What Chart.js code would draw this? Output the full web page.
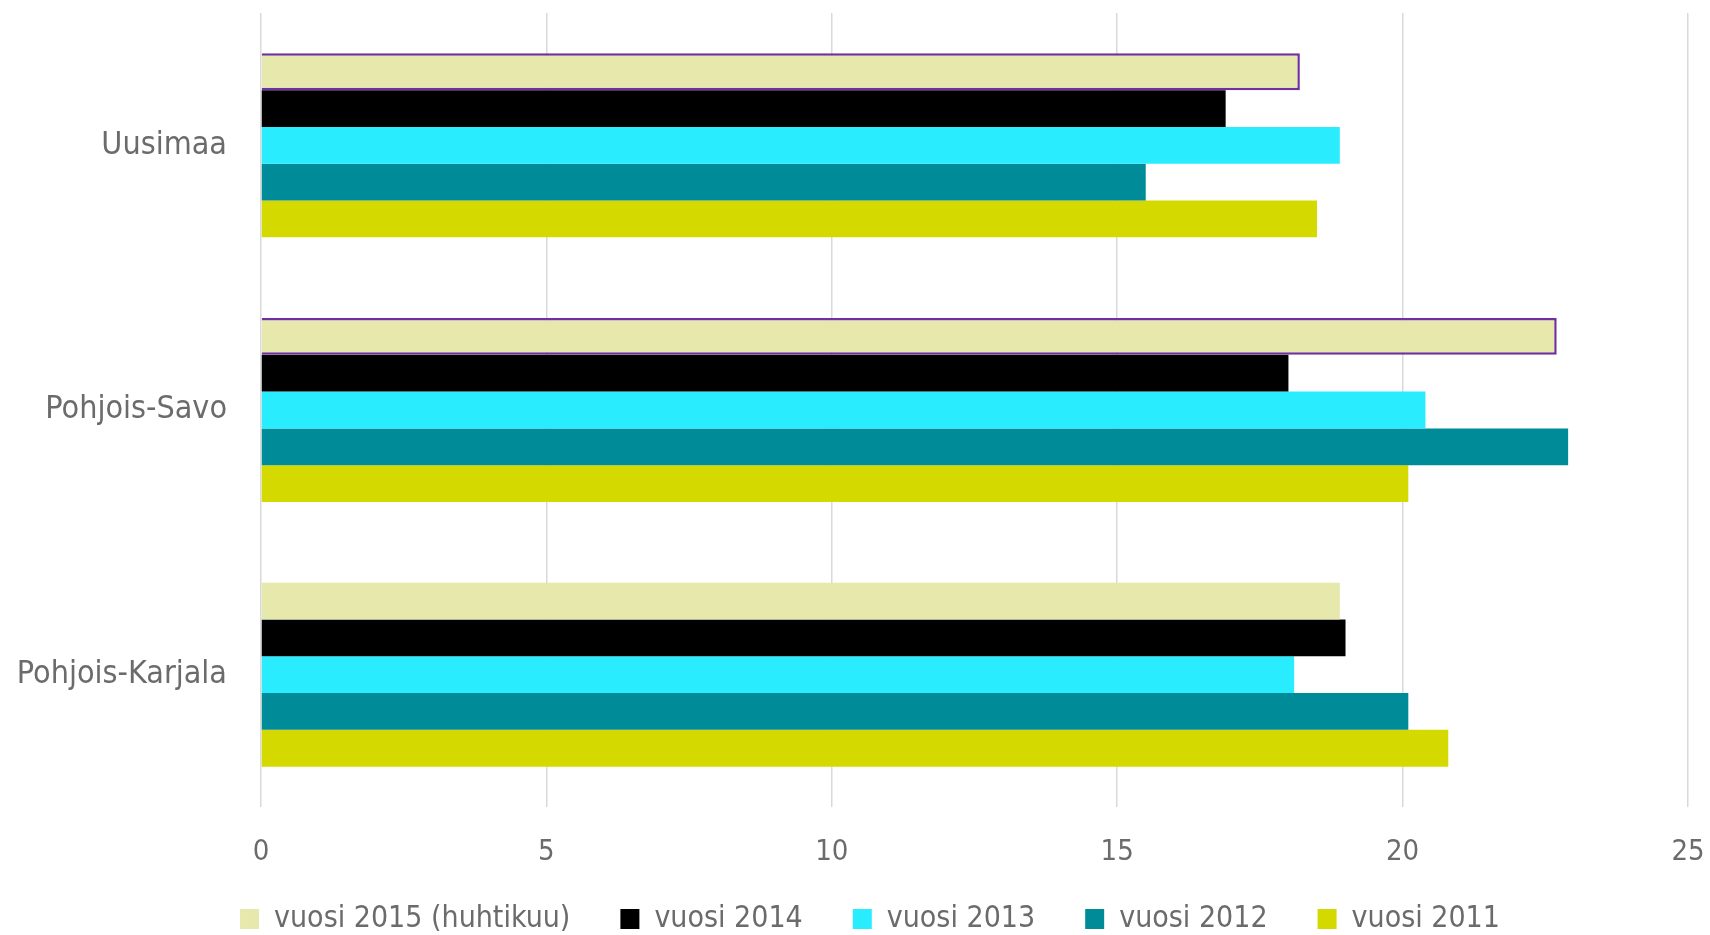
<!DOCTYPE html>
<html>
<head>
<meta charset="utf-8">
<script src="https://cdn.jsdelivr.net/npm/chart.js@4"></script>
<style>
html,body{margin:0;padding:0;background:#fff;}
#wrap{width:1710px;height:935px;position:relative;}
</style>
</head>
<body>
<div id="wrap"><canvas id="c" width="1710" height="935"></canvas></div>
<script>
const categories = ["Uusimaa", "Pohjois-Savo", "Pohjois-Karjala"];
const seriesNames = ["vuosi 2015 (huhtikuu)", "vuosi 2014", "vuosi 2013", "vuosi 2012", "vuosi 2011"];
const v2015 = [18.2, 22.7, 18.9];
const v2014 = [16.9, 18.0, 19.0];
const v2013 = [18.9, 20.4, 18.1];
const v2012 = [15.5, 22.9, 20.1];
const v2011 = [18.5, 20.1, 20.8];
const xTicks = [0, 5, 10, 15, 20, 25];

const colors = ["#E7E8AB", "#000000", "#29ECFF", "#008B99", "#D4D900"];
const values = [v2015, v2014, v2013, v2012, v2011];
const FONT = "'DejaVu Sans Condensed', 'DejaVu Sans', sans-serif";
const textColor = "#6b6b6b";

const LEG_PAD = 50;
const LEG_FONT = 30;
const LEG_TEXT_Y = 922;
const LEG_TOP = LEG_TEXT_Y - LEG_PAD - (LEG_FONT * 1.2) / 2;
const LEG_H = 935 - LEG_TOP;
const AREA_BOTTOM = 807;

const datasets = values.map((vals, i) => ({
  label: seriesNames[i],
  data: vals,
  backgroundColor: colors[i],
  borderColor: i === 0 ? "#7030A0" : colors[i],
  borderWidth: i === 0 ? [2.5, 2.5, 0] : 0,
  borderSkipped: 'start',
  barPercentage: 1.0,
  categoryPercentage: 0.695
}));

const legendFix = {
  id: 'legendFix',
  beforeLayout(chart) {
    const lg = chart.legend;
    if (lg && !lg._patched) {
      const f = lg.fit;
      lg.fit = function () { f.call(this); this.height = LEG_H; };
      lg._patched = true;
    }
  }
};

new Chart(document.getElementById('c'), {
  type: 'bar',
  data: { labels: categories, datasets: datasets },
  plugins: [legendFix],
  options: {
    indexAxis: 'y',
    responsive: false,
    animation: false,
    layout: { padding: { top: 13, right: 22, bottom: 0, left: 52 } },
    scales: {
      x: {
        min: 0, max: 25,
        afterBuildTicks: (axis) => { axis.ticks = xTicks.map(v => ({ value: v })); },
        afterFit: (axis) => {
          axis.height = LEG_TOP - AREA_BOTTOM; axis.paddingLeft = 0; axis.paddingRight = 0;
          axis._computeLabelArea = () => undefined;
        },
        grid: { color: "#d9d9d9", lineWidth: 1.5, drawTicks: false },
        border: { display: false },
        ticks: { color: textColor, font: { family: FONT, size: 29 }, padding: 28 }
      },
      y: {
        grid: { display: false, drawTicks: false },
        border: { display: false },
        afterFit: (axis) => {
          axis.width = 209; axis.paddingTop = 0; axis.paddingBottom = 0;
          axis._computeLabelArea = () => undefined;
        },
        ticks: { color: textColor, font: { family: FONT, size: 32 }, padding: 34 }
      }
    },
    plugins: {
      legend: {
        position: 'bottom',
        labels: {
          color: textColor,
          font: { family: FONT, size: LEG_FONT },
          boxWidth: 19,
          boxHeight: 20,
          padding: LEG_PAD,
          generateLabels: (chart) => {
            const items = Chart.defaults.plugins.legend.labels.generateLabels(chart);
            items.forEach((it, i) => { it.fillStyle = colors[i]; it.strokeStyle = colors[i]; it.lineWidth = 0; });
            return items;
          }
        }
      },
      tooltip: { enabled: false }
    }
  }
});
</script>
</body>
</html>
